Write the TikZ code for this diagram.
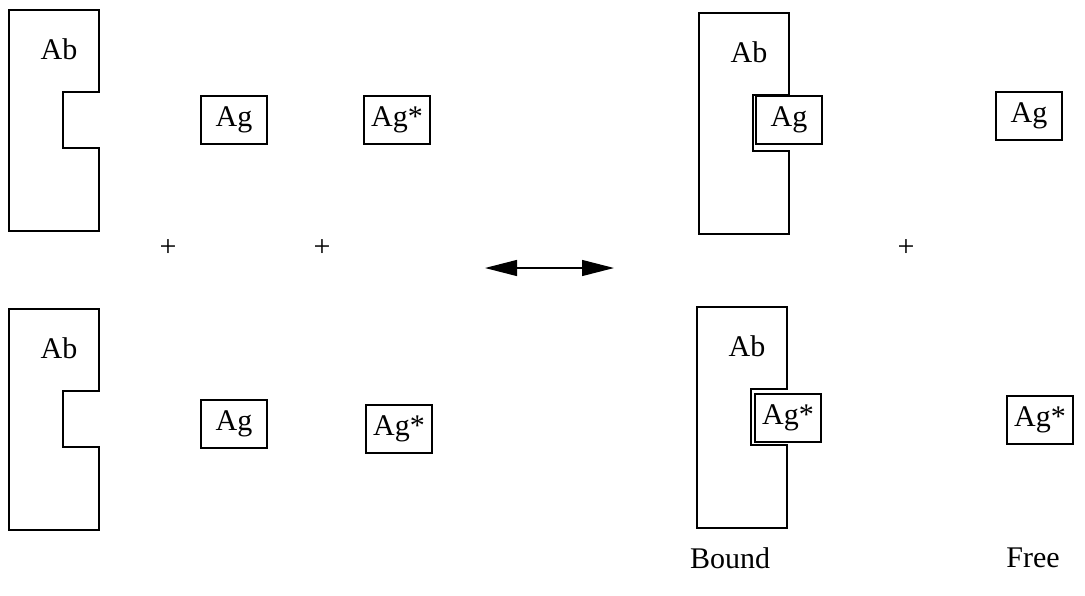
\documentclass[tikz,border=0pt]{standalone}
\usepackage{fontspec}
\setmainfont{Liberation Serif}
\usepackage{tikz}
\usetikzlibrary{calc}
\usetikzlibrary{positioning}
\usetikzlibrary{arrows.meta}
\tikzset{every picture/.style={>={Triangle[length=32pt,width=16pt]}}}

\begin{document}
\begin{tikzpicture}[x=1pt, y=-1pt, line width=2pt,
		every node/.style={font=\fontsize{30}{34}\selectfont},
		agbox/.style={draw, fill=white, inner sep=0pt, minimum width=66pt, minimum height=48pt, text height=20pt, text depth=6.5pt}]
		\def\abW{90}
		\def\abH{221}
		\def\nTop{82}
		\def\nX{36}
		\def\nH{56}
		\def\lblX{50}
		\def\lblY{39}

		\useasboundingbox (0,0) rectangle (1085,595);

		\coordinate (ab1) at (9,10);
		\coordinate (ab2) at (9,309);
		\coordinate (ab3) at (699,13);
		\coordinate (ab4) at (697,307);

		\foreach \c in {ab1,ab2,ab3,ab4} {
			\draw[line join=miter] (\c) -- ++(\abW,0) -- ++(0,\nTop) -- ++(-\nX,0) -- ++(0,\nH) -- ++(\nX,0) -- ++(0,\abH-\nTop-\nH) -- ++(-\abW,0) -- cycle;
			\node (\c-lbl) at ($(\c)+(\lblX,\lblY)$) {Ab};
		}

		\node[agbox] (ag1) at (234,120) {Ag};
		\node[agbox] (agS1) at (397,120) {Ag*};
		\node[agbox] (ag2) at (234,424) {Ag};
		\node[agbox] (agS2) at (399,429) {Ag*};

		\node[agbox] (agB) at (789,120) {Ag};
		\node[agbox] (agF) at (1029,116) {Ag};
		\node[agbox] (agSB) at (788,418) {Ag*};
		\node[agbox] (agSF) at (1040,420) {Ag*};

		\node (p1) at (168,248) {+};
		\node (p2) at (322,248) {+};
		\node (p3) at (906,248) {+};

		\coordinate (eqL) at (485,268);
		\coordinate (eqR) at (614,268);
		\draw[<->, line width=1.2pt] (eqL) -- (eqR);

		\node (bound) at (730,558) {Bound};
		\node (free) at (1033,558) {Free};

	\end{tikzpicture}
\end{document}
